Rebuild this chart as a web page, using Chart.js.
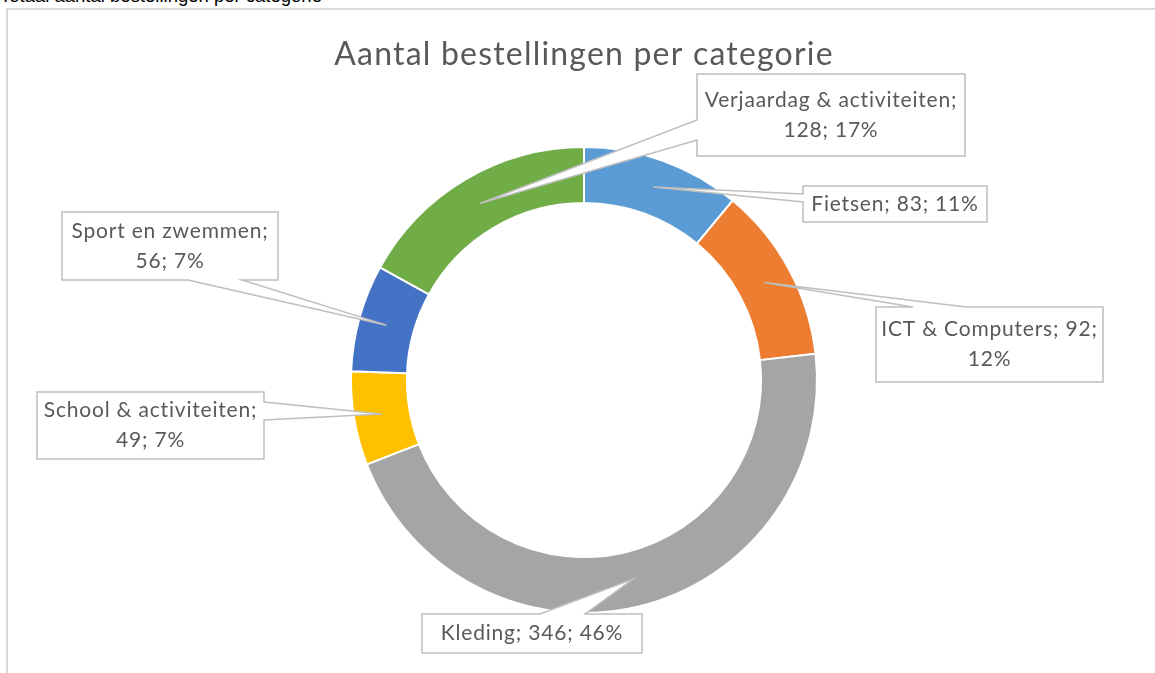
<!DOCTYPE html>
<html>
<head>
<meta charset="utf-8">
<script src="https://cdn.jsdelivr.net/npm/chart.js@4.4.1/dist/chart.umd.min.js"></script>
<style>
	body{margin:0;width:1155px;height:673px;overflow:hidden;background:#fff;position:relative;font-family:"Liberation Sans",Arial,sans-serif;}
	#kop{position:absolute;left:0;top:-13px;font-size:18.5px;line-height:18px;color:#000;white-space:nowrap;}
	#kader{position:absolute;left:6px;top:8px;right:-10px;bottom:-10px;border-left:2px solid #d9d9d9;border-top:2px solid #d9d9d9;}
	canvas{position:absolute;left:0;top:0;}
</style>
</head>
<body>
<div id="kop">Totaal aantal bestellingen per categorie</div>
<div id="kader"></div>
<canvas id="grafiek" width="1155" height="673"></canvas>
<script>
var titel = "Aantal bestellingen per categorie";
var categorieen = ["Fietsen", "ICT & Computers", "Kleding", "School & activiteiten", "Sport en zwemmen", "Verjaardag & activiteiten"];
var aantallen = [83, 92, 346, 49, 56, 128];
var percentages = [11, 12, 46, 7, 7, 17]; // zoals getoond in de grafiek
var kleuren = ["#5b9bd5", "#ed7d31", "#a5a5a5", "#ffc000", "#4472c4", "#70ad47"];
// regelafbreking: 0 = geen, 1 = na naam, 2 = na aantal
var afbreken = [0, 2, 0, 1, 1, 1];

// plaats van de labelvakken en de kant waar de aanwijzer vastzit
var labelVakken = [
	{x: 803, y: 186, w: 184, h: 36, kant: "links", van: 194, tot: 202},
	{x: 876, y: 307, w: 227, h: 75, kant: "boven", van: 913, tot: 966},
	{x: 422, y: 614, w: 220, h: 39, kant: "boven", van: 540, tot: 585},
	{x: 37, y: 392, w: 227, h: 67, kant: "rechts", van: 402, tot: 420},
	{x: 62, y: 212, w: 216, h: 68, kant: "onder", van: 188, tot: 242},
	{x: 697, y: 74, w: 268, h: 82, kant: "links", van: 120, tot: 140}
];

function labelRegels(i){
	var naam = categorieen[i], n = aantallen[i], p = percentages[i] + "%";
	if(afbreken[i] == 1) return [naam + ";", n + "; " + p];
	if(afbreken[i] == 2) return [naam + "; " + n + ";", p];
	return [naam + "; " + n + "; " + p];
}

var labelPlugin = {
	id: "labels",
	afterDraw: function(chart){
		var ctx = chart.ctx;
		var meta = chart.getDatasetMeta(0);
		ctx.save();
		// titel
		ctx.fillStyle = "#595959";
		ctx.font = "32px Lato";
		ctx.letterSpacing = "1.2px";
		ctx.textAlign = "center";
		ctx.textBaseline = "alphabetic";
		ctx.fillText(titel, 584, 65);

		meta.data.forEach(function(arc, i){
			var v = labelVakken[i];
			var punt = arc.tooltipPosition();
			var r = v.x + v.w, b = v.y + v.h;
			ctx.beginPath();
			ctx.moveTo(v.x, v.y);
			if(v.kant == "boven"){ ctx.lineTo(v.van, v.y); ctx.lineTo(punt.x, punt.y); ctx.lineTo(v.tot, v.y); }
			ctx.lineTo(r, v.y);
			if(v.kant == "rechts"){ ctx.lineTo(r, v.van); ctx.lineTo(punt.x, punt.y); ctx.lineTo(r, v.tot); }
			ctx.lineTo(r, b);
			if(v.kant == "onder"){ ctx.lineTo(v.tot, b); ctx.lineTo(punt.x, punt.y); ctx.lineTo(v.van, b); }
			ctx.lineTo(v.x, b);
			if(v.kant == "links"){ ctx.lineTo(v.x, v.tot); ctx.lineTo(punt.x, punt.y); ctx.lineTo(v.x, v.van); }
			ctx.closePath();
			ctx.fillStyle = "#ffffff";
			ctx.fill();
			ctx.strokeStyle = "#bfbfbf";
			ctx.lineWidth = 1.5;
			ctx.lineJoin = "miter";
			ctx.stroke();

			var regels = labelRegels(i);
			var midY = v.y + v.h / 2;
			var hoogte = 30;
			ctx.fillStyle = "#595959";
			ctx.font = "21px Lato";
			ctx.letterSpacing = "0.8px";
			ctx.textAlign = "center";
			ctx.textBaseline = "middle";
			regels.forEach(function(t, k){
				ctx.fillText(t, v.x + v.w / 2, midY + (k - (regels.length - 1) / 2) * hoogte);
			});
		});
		ctx.restore();
	}
};

var grafiek = new Chart(document.getElementById("grafiek"), {
	type: "doughnut",
	data: {
		labels: categorieen,
		datasets: [{
			data: aantallen,
			backgroundColor: kleuren,
			borderColor: "#ffffff",
			borderWidth: 2,
			hoverOffset: 0
		}]
	},
	options: {
		responsive: false,
		animation: false,
		events: [],
		cutout: "76%",
		layout: {padding: {left: 350, right: 337, top: 146, bottom: 59}},
		plugins: {
			legend: {display: false},
			tooltip: {enabled: false},
			title: {display: false}
		}
	},
	plugins: [labelPlugin]
});
</script>
</body>
</html>
